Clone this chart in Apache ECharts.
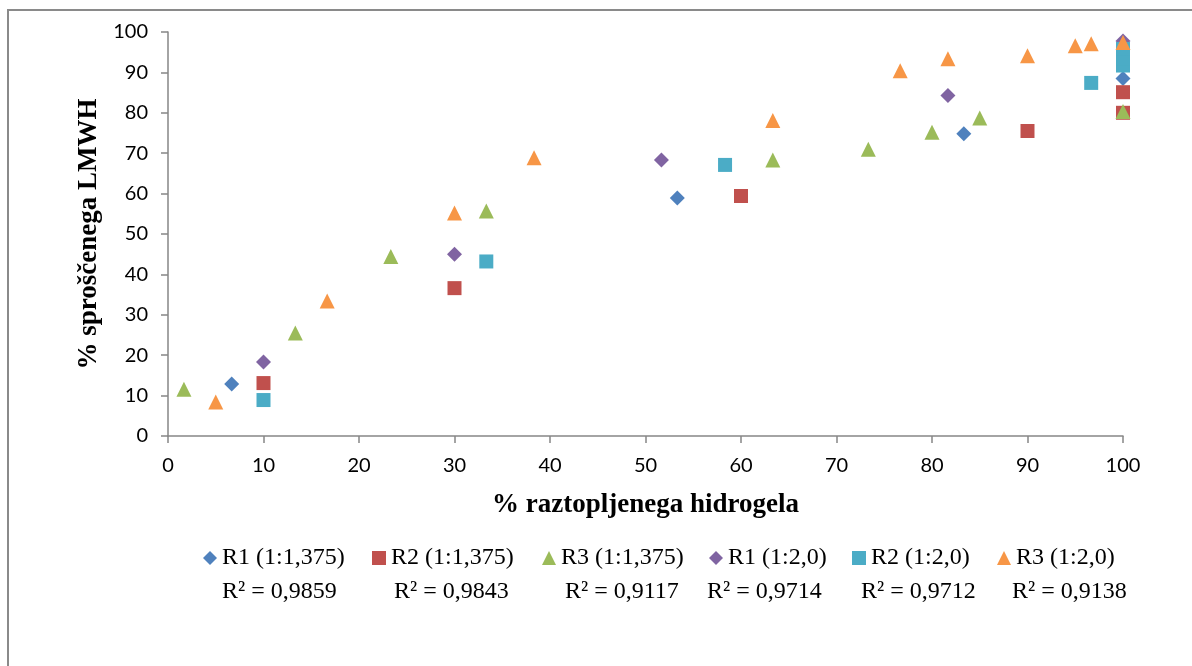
<!DOCTYPE html>
<html>
<head>
<meta charset="utf-8">
<script src="https://cdn.jsdelivr.net/npm/echarts@6/dist/echarts.min.js"></script>
<style>
  html, body { margin: 0; padding: 0; background: #ffffff; }
  #chart { width: 1192px; height: 666px; }
</style>
</head>
<body>
<div id="chart"></div>
<script>
// Series names and their R² values
const seriesNames = ['R1 (1:1,375)', 'R2 (1:1,375)', 'R3 (1:1,375)', 'R1 (1:2,0)', 'R2 (1:2,0)', 'R3 (1:2,0)'];
const rSquared = ['0,9859', '0,9843', '0,9117', '0,9714', '0,9712', '0,9138'];

// [% raztopljenega hidrogela, % sproščenega LMWH]
const r1a = [[6.67, 12.9], [53.33, 58.9], [83.33, 74.8], [100, 88.5]];
const r2a = [[10, 13.1], [30, 36.6], [60, 59.4], [90, 75.5], [100, 80.0], [100, 85.1]];
const r3a = [[1.67, 11.6], [13.33, 25.5], [23.33, 44.4], [33.33, 55.7], [63.33, 68.3], [73.33, 71.0], [80, 75.2], [85, 78.7], [100, 80.3]];
const r1b = [[10, 18.3], [30, 45.0], [51.67, 68.3], [81.67, 84.3], [100, 97.8]];
const r2b = [[10, 8.9], [33.33, 43.2], [58.33, 67.1], [96.67, 87.4], [100, 91.7], [100, 93.5], [100, 95.8]];
const r3b = [[5, 8.4], [16.67, 33.4], [30, 55.2], [38.33, 68.9], [63.33, 78.1], [76.67, 90.4], [81.67, 93.4], [90, 94.1], [95, 96.6], [96.67, 97.1], [100, 97.4]];

const seriesData = [r1a, r2a, r3a, r1b, r2b, r3b];

// Styling per series
const colors = ['#4F81BD', '#C0504D', '#9BBB59', '#8064A2', '#4BACC6', '#F79646'];
const symbols = ['diamond', 'rect', 'triangle', 'diamond', 'rect', 'triangle'];
const symbolSizes = [15, 14, 15, 15, 14, 15];
const legendLeft = [198, 367, 537, 704, 847, 992];
const r2Left = [222, 394, 565, 707, 861, 1012];

const serifFont = '"Liberation Serif", "Times New Roman", serif';
const tickFont = 'Lato, "Open Sans", sans-serif';
const axisColor = '#868686';

const chart = echarts.init(document.getElementById('chart'));

const legends = seriesNames.map((name, i) => ({
  data: [name],
  left: legendLeft[i],
  top: 541,
  orient: 'horizontal',
  itemWidth: 14,
  itemHeight: 14,
  itemGap: 5,
  selectedMode: false,
  textStyle: { fontFamily: serifFont, fontSize: 24, color: '#000' }
}));

const r2Texts = rSquared.map((v, i) => ({
  type: 'text',
  left: r2Left[i],
  top: 580,
  style: { text: 'R² = ' + v, fontFamily: serifFont, fontSize: 24, fill: '#000' }
}));

const option = {
  backgroundColor: '#ffffff',
  animation: false,
  grid: { left: 168, right: 69, top: 32, bottom: 230, containLabel: false },
  xAxis: {
    type: 'value',
    min: 0, max: 100, interval: 10,
    name: '% raztopljenega hidrogela',
    nameLocation: 'middle',
    nameGap: 56,
    nameTextStyle: { fontFamily: serifFont, fontSize: 27, fontWeight: 'bold', color: '#000' },
    axisLine: { show: true, onZero: false, lineStyle: { color: axisColor, width: 1.5 } },
    axisTick: { show: true, inside: false, length: 7, lineStyle: { color: axisColor, width: 1.5 } },
    axisLabel: { margin: 20, fontFamily: tickFont, fontSize: 20, color: '#000' },
    splitLine: { show: false }
  },
  yAxis: {
    type: 'value',
    min: 0, max: 100, interval: 10,
    name: '% sproščenega LMWH',
    nameLocation: 'middle',
    nameGap: 62,
    nameTextStyle: { fontFamily: serifFont, fontSize: 27, fontWeight: 'bold', color: '#000' },
    axisLine: { show: true, onZero: false, lineStyle: { color: axisColor, width: 1.5 } },
    axisTick: { show: true, inside: false, length: 7, lineStyle: { color: axisColor, width: 1.5 } },
    axisLabel: { margin: 20, fontFamily: tickFont, fontSize: 20, color: '#000' },
    splitLine: { show: false }
  },
  legend: legends,
  graphic: [
    {
      type: 'rect',
      shape: { x: 8, y: 10, width: 1200, height: 700 },
      style: { fill: 'none', stroke: '#8a8a8a', lineWidth: 2 },
      silent: true
    }
  ].concat(r2Texts),
  series: seriesNames.map((name, i) => ({
    name: name,
    type: 'scatter',
    data: seriesData[i],
    symbol: symbols[i],
    symbolSize: symbolSizes[i],
    itemStyle: { color: colors[i], opacity: 1 },
    z: 2 + i
  }))
};

chart.setOption(option);
</script>
</body>
</html>
